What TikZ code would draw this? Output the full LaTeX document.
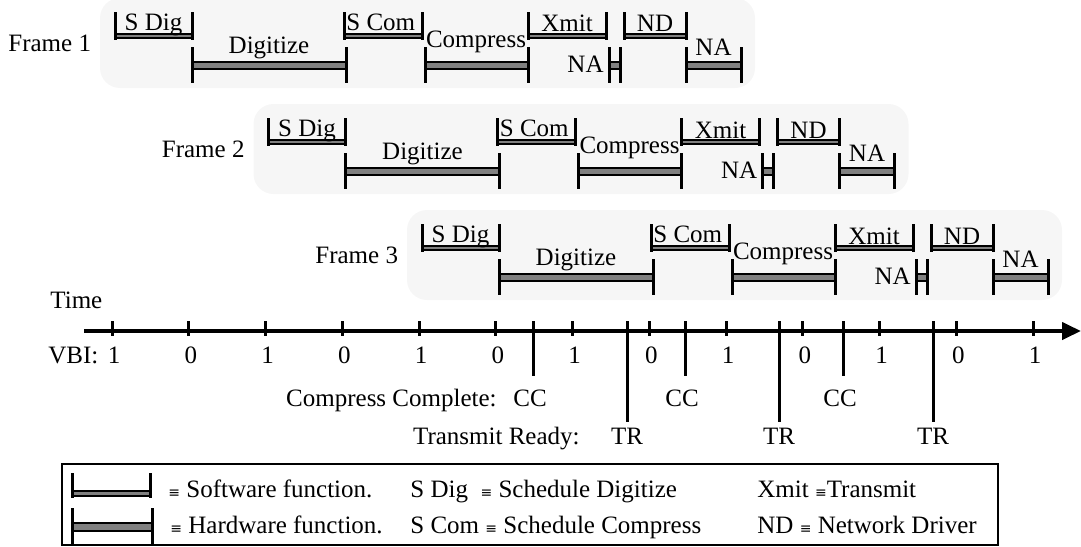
\documentclass[tikz,border=0pt]{standalone}
\usepackage{fontspec}
\setmainfont{Liberation Serif}
\newfontfamily\dejavu{DejaVu Sans}
\usetikzlibrary{arrows.meta}
\definecolor{barcol}{HTML}{808080}
\definecolor{bgcol}{HTML}{F6F6F6}
\newcommand\eqv{{\dejavu\fontsize{7}{7}\selectfont ≡}}
\newcommand\swbar[2]{%
  \draw[barbox] (#1,34) rectangle (#2,38);
  \draw[tk] (#1,12) -- (#1,39.5);
  \draw[tk] (#2,12) -- (#2,39.5);}
\newcommand\hwbar[2]{%
  \draw[barbox] (#1,62) rectangle (#2,69);
  \draw[tk] (#1,47) -- (#1,83);
  \draw[tk] (#2,47) -- (#2,83);}
\newcommand\tlframe[3]{%
\begin{scope}[shift={(#2,#3)}]
  \fill[framebg] (100,-2) rectangle (755,88);
  \node[lbl, anchor=base west] (fr#1) at (8,51) {Frame #1};
  \swbar{115}{192}
  \node[lbl] (sdig#1) at (153.5,30) {S Dig};
  \hwbar{192}{346}
  \node[lbl] (dig#1) at (269,53) {Digitize};
  \swbar{344}{422}
  \node[lbl, anchor=base west] (scom#1) at (346,30) {S Com};
  \hwbar{425}{528}
  \node[lbl] (comp#1) at (476,47) {Compress};
  \swbar{528}{606}
  \node[lbl] (xmit#1) at (567,32) {Xmit};
  \hwbar{609}{620}
  \node[lbl, anchor=base east] (naa#1) at (604,72) {NA};
  \swbar{624}{686}
  \node[lbl] (nd#1) at (655,32) {ND};
  \hwbar{686}{741}
  \node[lbl] (nab#1) at (713.5,55) {NA};
\end{scope}}
\begin{document}
\begin{tikzpicture}[x=0.5pt,y=-0.5pt,
  lbl/.style={font=\fontsize{12.5}{15}\selectfont, inner sep=0pt, anchor=base},
  barbox/.style={draw=black, line width=1.1pt, fill=barcol},
  tk/.style={line width=1.5pt},
  framebg/.style={fill=bgcol, rounded corners=10pt}]
\useasboundingbox (0,0) rectangle (1081,546);
\tlframe{1}{0}{0}
\tlframe{2}{153.5}{106}
\tlframe{3}{307}{212}
% time axis
\node[lbl, anchor=base west] (time) at (50,308) {Time};
\coordinate (ax0) at (84,331);
\coordinate (ax1) at (1081,331);
\draw[line width=2pt, -{Triangle[length=9.5pt,width=8.5pt]}] (ax0) -- (ax1);
\node[lbl, anchor=base west] (vbi) at (48,363) {VBI:};
\foreach \k in {0,...,12}{
  \pgfmathsetmacro\xx{112+76.75*\k}
  \pgfmathtruncatemacro\vv{mod(\k+1,2)}
  \draw[tk] (\xx,321) -- (\xx,336);
  \node[lbl] (v\k) at (\xx+2,363) {\vv};
}
% CC and TR markers
\node[lbl, anchor=base east] (cclab) at (497,406) {Compress Complete:};
\node[lbl, anchor=base east] (trlab) at (580,444) {Transmit Ready:};
\foreach \i/\cx/\tx in {1/533/627, 2/685/779, 3/843/933}{
  \node[lbl] (cc\i) at (\cx-3,406) {CC};
  \node[lbl] (tr\i) at (\tx,444) {TR};
  \draw[tk] (\cx,321) -- (\cx,376);
  \draw[tk] (\tx,321) -- (\tx,422);
}
% legend
\draw[line width=1pt] (62,464) rectangle (998,545);
\draw[barbox] (72,491) rectangle (150,496);
\draw[tk] (72,473) -- (72,497.5);
\draw[tk] (150,473) -- (150,497.5);
\draw[barbox] (72,523) rectangle (152,531);
\draw[tk] (72,508) -- (72,546);
\draw[tk] (152,508) -- (152,546);
\node[lbl, anchor=base west] (sw) at (168,497) {\eqv\ Software function.};
\node[lbl, anchor=base west] (hw) at (170,533) {\eqv\ Hardware function.};
\node[lbl, anchor=base west] (sdl) at (410,497) {S Dig \ \eqv\ Schedule Digitize};
\node[lbl, anchor=base west] (scl) at (410,533) {S Com \eqv\ Schedule Compress};
\node[lbl, anchor=base west] (xml) at (757,497) {Xmit \eqv Transmit};
\node[lbl, anchor=base west] (ndl) at (757,533) {ND \eqv\ Network Driver};
\end{tikzpicture}
\end{document}
